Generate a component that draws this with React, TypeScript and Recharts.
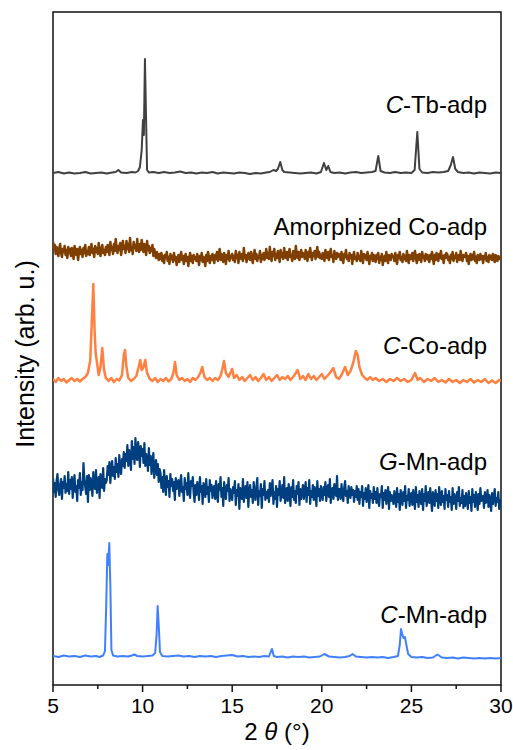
import React from 'react';
import { LineChart, Line, XAxis, YAxis, ReferenceArea, ReferenceDot } from 'recharts';

// ---- scan grid for the densely sampled amorphous patterns (2θ, degrees) ----
const scanStart = 5;
const scanStep = 0.05;

// G-Mn-adp intensities (arb. u., stacked), one row per degree 5.00–29.95, then 30.00
const gMnIntensity = [
  207, 193, 202, 188, 204, 211, 195, 190, 200, 206, 186, 203, 197, 209, 192, 201, 194, 213, 191, 205,
  196, 208, 187, 201, 210, 193, 199, 184, 205, 197, 212, 190, 203, 195, 222, 206, 198, 191, 209, 183,
  210, 195, 207, 199, 189, 213, 201, 196, 215, 192, 204, 208, 187, 211, 200, 197, 217, 194, 206, 202,
  205, 219, 210, 223, 202, 216, 224, 209, 218, 206, 227, 213, 221, 208, 230, 215, 211, 226, 219, 233,
  217, 231, 224, 240, 219, 235, 228, 215, 244, 226, 238, 221, 247, 230, 225, 243, 233, 218, 239, 229,
  236, 222, 242, 219, 231, 226, 214, 237, 220, 229, 211, 224, 232, 207, 219, 225, 210, 221, 203, 216,
  212, 197, 208, 193, 215, 202, 190, 209, 198, 204, 188, 211, 199, 206, 194, 203, 185, 207, 196, 201,
  205, 189, 201, 210, 193, 198, 184, 207, 196, 202, 190, 212, 195, 187, 204, 199, 208, 192, 183, 200,
  190, 203, 197, 185, 208, 193, 199, 181, 202, 196, 188, 206, 191, 198, 183, 205, 194, 200, 187, 197,
  199, 186, 204, 191, 183, 201, 195, 208, 188, 197, 179, 203, 192, 186, 200, 194, 207, 184, 196, 190,
  185, 198, 192, 204, 180, 195, 189, 201, 176, 197, 191, 186, 206, 183, 194, 199, 187, 203, 178, 193,
  200, 188, 195, 182, 203, 191, 185, 198, 207, 180, 194, 189, 201, 177, 196, 190, 204, 185, 193, 187,
  195, 183, 202, 189, 197, 205, 181, 193, 186, 199, 178, 196, 190, 204, 184, 192, 200, 187, 208, 182,
  189, 197, 184, 201, 192, 179, 198, 188, 205, 185, 194, 182, 199, 191, 203, 180, 196, 186, 193, 200,
  186, 195, 203, 183, 197, 190, 205, 181, 194, 188, 200, 185, 198, 192, 179, 204, 189, 196, 184, 199,
  191, 185, 198, 190, 203, 184, 195, 200, 188, 206, 182, 194, 197, 186, 201, 192, 189, 209, 185, 196,
  196, 186, 201, 190, 184, 197, 204, 189, 194, 182, 199, 191, 187, 198, 190, 195, 183, 194, 188, 199,
  185, 196, 181, 193, 188, 199, 179, 192, 186, 197, 183, 190, 200, 177, 194, 187, 191, 182, 198, 186,
  193, 182, 197, 186, 179, 191, 188, 199, 177, 192, 185, 195, 181, 189, 198, 176, 193, 184, 190, 187,
  181, 194, 186, 178, 197, 183, 191, 175, 195, 188, 180, 193, 184, 199, 177, 189, 185, 196, 179, 190,
  192, 180, 195, 185, 176, 198, 183, 190, 178, 194, 187, 181, 196, 175, 191, 184, 199, 179, 188, 193,
  182, 197, 185, 174, 193, 188, 179, 195, 184, 191, 177, 198, 186, 180, 194, 183, 189, 176, 196, 185,
  190, 178, 194, 183, 188, 175, 197, 181, 191, 186, 176, 193, 184, 198, 179, 187, 182, 195, 177, 189,
  179, 192, 185, 176, 194, 182, 188, 174, 196, 183, 190, 178, 193, 186, 175, 191, 181, 197, 184, 187,
  189, 177, 193, 182, 186, 195, 178, 190, 184, 174, 192, 181, 188, 196, 179, 187, 183, 193, 176, 185,
  180,
];

// Amorphized Co-adp intensities (arb. u., stacked), same grid
const amCoIntensity = [
  443, 436, 440, 431, 438, 434, 429, 437, 441, 432, 428, 436, 433, 439, 430, 435, 427, 438, 432, 436,
  429, 437, 432, 426, 439, 434, 430, 436, 425, 433, 438, 431, 435, 428, 437, 432, 440, 429, 434, 431,
  438, 430, 435, 441, 432, 436, 428, 439, 433, 437, 431, 442, 434, 429, 436, 440, 432, 435, 430, 438,
  433, 440, 436, 430, 443, 435, 438, 431, 441, 434, 446, 437, 432, 439, 435, 442, 430, 437, 444, 436,
  439, 432, 444, 436, 441, 433, 447, 435, 438, 431, 443, 437, 440, 434, 446, 436, 433, 441, 435, 445,
  438, 433, 441, 436, 430, 444, 435, 439, 432, 437, 434, 440, 429, 436, 431, 427, 433, 429, 425, 431,
  426, 432, 424, 429, 422, 430, 427, 433, 424, 428, 421, 431, 426, 429, 423, 432, 425, 428, 420, 427,
  430, 423, 428, 433, 425, 429, 421, 427, 431, 424, 428, 419, 426, 432, 424, 429, 422, 430, 426, 428,
  424, 431, 426, 420, 429, 425, 432, 423, 428, 426, 419, 430, 424, 433, 427, 422, 429, 425, 431, 426,
  422, 430, 426, 433, 424, 429, 436, 425, 431, 427, 423, 432, 428, 421, 430, 426, 434, 424, 429, 427,
  431, 425, 429, 423, 434, 427, 430, 422, 433, 428, 426, 431, 424, 437, 427, 430, 423, 429, 432, 426,
  425, 433, 427, 422, 430, 435, 426, 431, 424, 429, 427, 434, 423, 430, 426, 432, 425, 428, 436, 427,
  432, 426, 438, 428, 424, 433, 429, 436, 425, 431, 427, 434, 430, 423, 435, 428, 432, 426, 437, 429,
  427, 433, 425, 431, 436, 428, 430, 424, 434, 429, 426, 439, 431, 427, 433, 425, 430, 435, 428, 432,
  431, 426, 435, 429, 424, 433, 428, 437, 430, 425, 432, 429, 434, 426, 431, 438, 428, 433, 427, 430,
  426, 432, 429, 424, 435, 430, 427, 433, 425, 431, 436, 428, 430, 423, 434, 429, 426, 432, 428, 431,
  430, 425, 433, 427, 422, 431, 428, 435, 426, 429, 424, 432, 427, 430, 421, 429, 433, 426, 428, 424,
  432, 426, 429, 424, 434, 428, 422, 431, 427, 430, 425, 433, 428, 421, 429, 426, 432, 424, 430, 427,
  423, 430, 426, 432, 422, 428, 425, 431, 420, 427, 429, 424, 433, 426, 422, 430, 427, 425, 431, 428,
  429, 424, 432, 426, 421, 430, 427, 433, 425, 428, 423, 431, 426, 429, 424, 434, 427, 422, 430, 426,
  426, 432, 424, 429, 434, 427, 422, 430, 425, 431, 428, 423, 433, 427, 429, 424, 431, 426, 430, 425,
  423, 430, 426, 433, 427, 421, 430, 425, 432, 428, 424, 431, 427, 434, 426, 429, 422, 430, 427, 432,
  431, 425, 428, 422, 430, 426, 433, 424, 429, 427, 432, 423, 428, 430, 425, 434, 427, 424, 430, 428,
  428, 432, 424, 429, 421, 427, 431, 425, 430, 426, 433, 424, 428, 422, 430, 427, 425, 431, 426, 429,
  422, 429, 426, 432, 424, 428, 423, 430, 426, 429, 425, 431, 427, 423, 430, 428, 424, 429, 426, 428,
  426,
];

// crystalline patterns: [2θ, intensity (stacked)]
const cTbPoints: [number, number][] = [
  [5.0, 512], [5.3, 513], [5.6, 511.5], [5.9, 512.5], [6.2, 511.5], [6.5, 512], [6.8, 513], [7.1, 511.5],
  [7.4, 512], [7.7, 512.5], [8.0, 511.5], [8.3, 512.5], [8.5, 513], [8.65, 515], [8.8, 512.5], [9.1, 512],
  [9.4, 513], [9.6, 512.5], [9.75, 514], [9.85, 518], [9.95, 535], [10.02, 565], [10.07, 550], [10.13, 626],
  [10.2, 560], [10.25, 515], [10.35, 512.5], [10.6, 513], [10.9, 512], [11.2, 513], [11.5, 512], [11.8, 512.5],
  [12.1, 513.5], [12.4, 512], [12.7, 512.5], [13.0, 511.5], [13.3, 512.5], [13.6, 512], [13.9, 513], [14.2, 511.5],
  [14.5, 512.5], [14.8, 512], [15.1, 511.5], [15.4, 512.5], [15.7, 512], [16.0, 511], [16.3, 512], [16.6, 511.5],
  [16.9, 512.5], [17.1, 513], [17.3, 515], [17.45, 514], [17.55, 516], [17.68, 523], [17.8, 515], [17.9, 513],
  [18.2, 512.5], [18.5, 512], [18.8, 511.5], [19.1, 512], [19.4, 512.5], [19.7, 511.5], [19.95, 513], [20.12, 522],
  [20.25, 515], [20.36, 519], [20.48, 513], [20.7, 512], [21.0, 512.5], [21.3, 511.5], [21.6, 512.5], [21.9, 513],
  [22.2, 512], [22.5, 512.5], [22.8, 513], [23.0, 514], [23.15, 529], [23.28, 514], [23.5, 512.5], [23.8, 512],
  [24.1, 513], [24.4, 512], [24.7, 512.5], [25.0, 512], [25.18, 515], [25.33, 553], [25.45, 516], [25.6, 512.5],
  [25.9, 512], [26.2, 513], [26.5, 512.5], [26.8, 513], [27.05, 514], [27.2, 520], [27.32, 528], [27.45, 516],
  [27.6, 513], [27.9, 512], [28.2, 512.5], [28.5, 511.5], [28.8, 512.5], [29.1, 512], [29.4, 511.5], [29.7, 512.5],
  [30.0, 512],
];

const cCoPoints: [number, number][] = [
  [5.0, 306], [5.15, 303], [5.3, 307], [5.45, 304], [5.6, 306], [5.75, 302.5], [5.9, 305], [6.05, 307],
  [6.2, 304], [6.35, 306], [6.5, 303.5], [6.65, 306], [6.8, 308], [6.95, 312], [7.08, 325], [7.18, 370],
  [7.25, 401], [7.32, 355], [7.38, 332], [7.46, 322], [7.55, 310], [7.65, 318], [7.75, 337], [7.85, 315],
  [7.95, 307], [8.1, 304], [8.25, 307], [8.4, 303], [8.55, 306], [8.7, 304.5], [8.85, 310], [8.95, 330],
  [9.02, 335], [9.1, 318], [9.2, 307], [9.35, 304], [9.5, 306], [9.65, 309], [9.78, 318], [9.87, 325],
  [9.95, 315], [10.05, 318], [10.15, 325], [10.25, 312], [10.4, 306], [10.55, 304], [10.7, 307], [10.85, 303],
  [11.0, 306], [11.15, 304], [11.3, 307], [11.45, 303.5], [11.6, 306], [11.72, 312], [11.81, 323], [11.9, 310],
  [12.05, 305], [12.2, 307], [12.35, 304], [12.5, 306], [12.65, 303], [12.8, 307], [12.95, 305], [13.1, 308],
  [13.22, 312], [13.33, 318], [13.45, 308], [13.6, 305], [13.75, 307], [13.9, 304], [14.05, 307], [14.2, 305],
  [14.35, 309], [14.45, 316], [14.54, 324], [14.65, 312], [14.8, 308], [15.0, 316], [15.1, 307], [15.25, 310],
  [15.4, 305], [15.55, 308], [15.7, 304], [15.85, 307], [16.0, 310], [16.15, 305], [16.3, 308], [16.45, 304],
  [16.6, 307], [16.75, 311], [16.9, 305], [17.05, 308], [17.2, 304], [17.35, 307], [17.5, 310], [17.65, 305],
  [17.8, 308], [17.95, 306], [18.1, 309], [18.25, 305], [18.4, 308], [18.55, 312], [18.65, 315], [18.8, 306],
  [18.95, 309], [19.1, 305], [19.25, 311], [19.4, 306], [19.55, 309], [19.7, 305], [19.85, 308], [20.0, 311],
  [20.15, 306], [20.3, 309], [20.45, 312], [20.64, 317], [20.8, 308], [20.95, 306], [21.1, 310], [21.3, 318],
  [21.45, 310], [21.6, 314], [21.75, 322], [21.9, 334], [22.0, 330], [22.1, 318], [22.25, 310], [22.4, 307],
  [22.55, 305], [22.7, 308], [22.85, 305], [23.0, 307], [23.2, 304], [23.4, 306], [23.6, 303], [23.8, 306],
  [24.0, 304], [24.2, 307], [24.4, 304], [24.6, 306], [24.8, 303], [25.0, 305], [25.2, 312], [25.35, 305],
  [25.5, 307], [25.7, 303], [25.9, 306], [26.1, 304], [26.3, 307], [26.5, 303], [26.7, 305], [26.9, 302.5],
  [27.1, 306], [27.3, 303], [27.5, 305], [27.7, 302], [27.9, 305], [28.1, 303], [28.3, 306], [28.5, 302.5],
  [28.7, 305], [28.9, 303], [29.1, 306], [29.3, 302], [29.5, 304.5], [29.7, 302], [29.9, 305], [30.0, 304],
];

const cMnPoints: [number, number][] = [
  [5.0, 29], [5.3, 28], [5.6, 29.5], [5.9, 28.5], [6.2, 29], [6.5, 28], [6.8, 29.5], [7.1, 28.5],
  [7.4, 29], [7.6, 28], [7.8, 29.5], [7.9, 34], [7.97, 80], [8.03, 131], [8.08, 120], [8.14, 142],
  [8.2, 100], [8.26, 35], [8.35, 29.5], [8.6, 28.5], [8.9, 29], [9.2, 28.5], [9.4, 29.5], [9.54, 30.5],
  [9.7, 29], [10.0, 28.5], [10.3, 29], [10.55, 29.5], [10.7, 32], [10.78, 50], [10.84, 79], [10.9, 60],
  [10.97, 33], [11.1, 29], [11.4, 28.5], [11.7, 29], [12.0, 29.5], [12.3, 28.5], [12.6, 29], [12.9, 28],
  [13.2, 29], [13.5, 28.5], [13.8, 29], [14.1, 28], [14.4, 29], [14.7, 29.5], [15.0, 30], [15.3, 28.5],
  [15.6, 29], [15.9, 28], [16.2, 28.5], [16.5, 28], [16.8, 29], [17.05, 28.5], [17.15, 33], [17.22, 36],
  [17.32, 29], [17.5, 28], [17.8, 28.5], [18.1, 27.5], [18.4, 28.5], [18.7, 28], [19.0, 28.5], [19.3, 27.5],
  [19.6, 28], [19.9, 28.5], [20.14, 31], [20.4, 28.5], [20.7, 28], [21.0, 27.5], [21.3, 28], [21.55, 29],
  [21.72, 31], [21.9, 28.5], [22.2, 28], [22.5, 27.5], [22.8, 28], [23.1, 27.5], [23.4, 28], [23.7, 27],
  [24.0, 28], [24.25, 29], [24.35, 40], [24.42, 56], [24.5, 50], [24.57, 47], [24.64, 48], [24.72, 40],
  [24.82, 31], [25.0, 28], [25.3, 27.5], [25.6, 28], [25.9, 27], [26.2, 27.5], [26.45, 30.5], [26.7, 27.5],
  [27.0, 27], [27.3, 27.5], [27.6, 26.5], [27.9, 27.5], [28.2, 27], [28.5, 26.5], [28.8, 27], [29.1, 26.5],
  [29.4, 27], [29.7, 26.5], [30.0, 27],
];

const xTicks = [5, 7.5, 10, 12.5, 15, 17.5, 20, 22.5, 25, 27.5, 30];

const seriesLabels = [
  { x: 29.22, y: 572, italic: 'C', rest: '-Tb-adp' },
  { x: 29.22, y: 450, italic: '', rest: 'Amorphized Co-adp' },
  { x: 29.22, y: 331, italic: 'C', rest: '-Co-adp' },
  { x: 29.22, y: 215, italic: 'G', rest: '-Mn-adp' },
  { x: 29.22, y: 62, italic: 'C', rest: '-Mn-adp' },
];

const yTitle = 'Intensity (arb. u.)';

const FONT = "'Liberation Sans', Arial, sans-serif";
const AXIS = '#111';

const fromGrid = (vals: number[]) => vals.map((v, i) => ({ x: scanStart + i * scanStep, v }));
const fromPairs = (pts: [number, number][]) => pts.map(([x, v]) => ({ x, v }));

const series = [
  { key: 'ctb', data: fromPairs(cTbPoints), color: '#404040', w: 2 },
  { key: 'amco', data: fromGrid(amCoIntensity), color: '#7f3f00', w: 2.5 },
  { key: 'cco', data: fromPairs(cCoPoints), color: '#ff8040', w: 2.5 },
  { key: 'gmn', data: fromGrid(gMnIntensity), color: '#003f7f', w: 2.2 },
  { key: 'cmn', data: fromPairs(cMnPoints), color: '#4080ff', w: 2 },
];

const XTick = (p: any) => {
  const { x, y, payload } = p;
  const major = payload.value % 5 === 0;
  return (
    <g>
      <line x1={x} x2={x} y1={y} y2={y + (major ? 7 : 4)} stroke={AXIS} strokeWidth={1.5} />
      {major && (
        <text x={x} y={y + 28} textAnchor="middle" fontSize={21} fontFamily={FONT} fill="#000">
          {payload.value}
        </text>
      )}
    </g>
  );
};

export default function App() {
  return (
    <div style={{ position: 'absolute', left: 0, top: 0, width: 513, height: 750, background: '#fff' }}>
      <LineChart width={513} height={750} margin={{ top: 12, right: 12, bottom: 0, left: 53 }}>
        <XAxis
          dataKey="x"
          type="number"
          domain={[5, 30]}
          ticks={xTicks}
          interval={0}
          tickSize={0}
          tickMargin={0}
          tickLine={false}
          axisLine={false}
          tick={XTick}
          height={65}
          allowDataOverflow
          label={{
            content: (props: any) => {
              const vb = props.viewBox;
              const cx = vb.x + vb.width / 2;
              return (
                <text x={cx} y={vb.y + 55} textAnchor="middle" fontSize={24} fontFamily={FONT} fill="#000">
                  2 <tspan fontStyle="italic">θ</tspan> (°)
                </text>
              );
            },
          }}
        />
        <YAxis type="number" domain={[0, 673]} hide allowDataOverflow />
        {series.map((s) => (
          <Line
            key={s.key}
            data={s.data}
            dataKey="v"
            type="linear"
            stroke={s.color}
            strokeWidth={s.w}
            strokeLinejoin="round"
            dot={false}
            activeDot={false}
            isAnimationActive={false}
          />
        ))}
        <ReferenceArea x1={5} x2={30} y1={0} y2={673} fill="none" stroke={AXIS} strokeWidth={1.5} ifOverflow="visible" />
        <ReferenceDot
          x={5}
          y={331}
          r={0}
          ifOverflow="visible"
          shape={(p: any) => {
            const cx = p.cx - 28;
            const cy = p.cy;
            return (
              <text
                x={cx}
                y={cy}
                transform={`rotate(-90 ${cx} ${cy})`}
                textAnchor="middle"
                dominantBaseline="central"
                fontSize={25}
                fontFamily={FONT}
                fill="#000"
              >
                {yTitle}
              </text>
            );
          }}
        />
        {seriesLabels.map((l, i) => (
          <ReferenceDot
            key={i}
            x={l.x}
            y={l.y}
            r={0}
            ifOverflow="visible"
            shape={(p: any) => (
              <text x={p.cx} y={p.cy} textAnchor="end" fontSize={24} fontFamily={FONT} fill="#000">
                {l.italic && <tspan fontStyle="italic">{l.italic}</tspan>}
                {l.rest}
              </text>
            )}
          />
        ))}
      </LineChart>
    </div>
  );
}
